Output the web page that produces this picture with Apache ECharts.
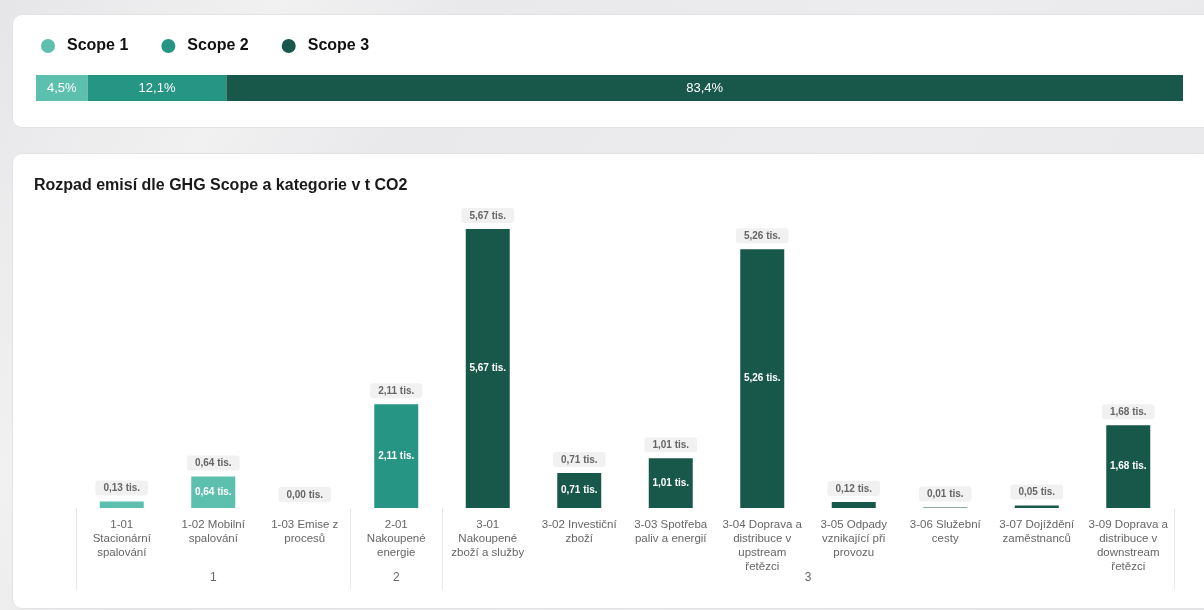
<!DOCTYPE html>
<html>
<head>
<meta charset="utf-8">
<script src="https://cdn.jsdelivr.net/npm/echarts@6/dist/echarts.min.js"></script>
<style>
  html, body { margin: 0; padding: 0; width: 1204px; height: 610px; overflow: hidden;
    font-family: "Liberation Sans", Arial, sans-serif;
    background: linear-gradient(120deg, #e6e6e8 0%, #f1f1f2 18%, #e9e9eb 30%, #ececee 60%, #e8e8ea 100%); }
  .card { position: absolute; background: #fff; border: 1px solid #e3e3e3; border-radius: 10px; box-sizing: border-box; }
  #card1 { left: 12px; top: 14px; width: 1210px; height: 114px; }
  #card2 { left: 12px; top: 153px; width: 1210px; height: 456px; }
  #c1 { position: absolute; left: 0; top: 0; width: 1208px; height: 112px; }
  #c2 { position: absolute; left: 0; top: 0; width: 1208px; height: 454px; }
</style>
</head>
<body>
<div class="card" id="card1"><div id="c1"></div></div>
<div class="card" id="card2"><div id="c2"></div></div>
<script>
// ---- data ----
const scopeNames = ['Scope 1', 'Scope 2', 'Scope 3'];
const scopeShares = [4.5, 12.1, 83.4];           // percent of total
const scopeColors = ['#5dbfae', '#279584', '#18584a'];

const categories = [
  '1-01\nStacionární\nspalování',
  '1-02 Mobilní\nspalování',
  '1-03 Emise z\nprocesů',
  '2-01\nNakoupené\nenergie',
  '3-01\nNakoupené\nzboží a služby',
  '3-02 Investiční\nzboží',
  '3-03 Spotřeba\npaliv a energií',
  '3-04 Doprava a\ndistribuce v\nupstream\nřetězci',
  '3-05 Odpady\nvznikající při\nprovozu',
  '3-06 Služební\ncesty',
  '3-07 Dojíždění\nzaměstnanců',
  '3-09 Doprava a\ndistribuce v\ndownstream\nřetězci'
];
const categoryScope = [1, 1, 1, 2, 3, 3, 3, 3, 3, 3, 3, 3];
const emissionsThousands = [0.13, 0.64, 0.00, 2.11, 5.67, 0.71, 1.01, 5.26, 0.12, 0.01, 0.05, 1.68];

const groupLabels = ['1', '2', '3'];
const groupLabelPos = [1.5, 3.5, 8];     // centre of each group in category units
const groupBounds = [0, 3, 4, 12];       // separators in category units

const titleText = 'Rozpad emisí dle GHG Scope a kategorie v t CO2';

// ---- helpers ----
const fmtCz = (v, d) => v.toFixed(d).replace('.', ',');
const FONT = '"Liberation Sans", Arial, sans-serif';

// ---- chart 1: scope shares ----
const c1 = echarts.init(document.getElementById('c1'), null, { renderer: 'canvas' });
c1.setOption({
  animation: false,
  textStyle: { fontFamily: FONT },
  legend: {
    left: 23, top: 18,
    icon: 'circle', itemWidth: 14, itemHeight: 14, itemGap: 33,
    textStyle: { fontSize: 16, fontWeight: 'bold', color: '#111', padding: [0, 0, 0, 7] },
    data: scopeNames
  },
  grid: { left: 23, top: 60, width: 1147, height: 26 },
  xAxis: { type: 'value', min: 0, max: 100, show: false },
  yAxis: { type: 'category', data: [''], show: false },
  series: scopeNames.map((name, i) => ({
    name, type: 'bar', stack: 'total', barWidth: 26,
    itemStyle: { color: scopeColors[i] },
    label: { show: true, position: 'inside', color: '#fff', fontSize: 13,
      formatter: p => fmtCz(p.value, 1) + '%' },
    data: [scopeShares[i]]
  }))
});

// ---- chart 2: categories ----
const c2 = echarts.init(document.getElementById('c2'), null, { renderer: 'canvas' });
const barData = emissionsThousands.map((v, i) => ({
  value: v,
  itemStyle: { color: scopeColors[categoryScope[i] - 1] }
}));
c2.setOption({
  animation: false,
  textStyle: { fontFamily: FONT },
  title: {
    text: titleText, left: 16, top: 19,
    textStyle: { fontSize: 16, fontWeight: 'bold', color: '#1a1a1a', fontFamily: FONT }
  },
  grid: { left: 63, width: 1098, top: 58.8, height: 295.2 },
  xAxis: [
    {
      type: 'category', data: categories,
      axisLine: { show: false }, axisTick: { show: false },
      axisLabel: { interval: 0, fontSize: 11.5, lineHeight: 14, color: '#666', margin: 10, align: 'center' }
    },
    {
      type: 'value', min: 0, max: 12, position: 'bottom',
      axisLine: { show: false }, splitLine: { show: false },
      axisTick: { show: true, customValues: groupBounds, length: 82, inside: false,
        lineStyle: { color: '#e8e8e8', width: 1 } },
      axisLabel: { show: true, customValues: groupLabelPos, margin: 64, fontSize: 12, color: '#666',
        formatter: v => groupLabels[groupLabelPos.indexOf(v)] ?? '' }
    }
  ],
  yAxis: { type: 'value', min: 0, max: 6, show: false },
  series: [
    {
      type: 'bar', xAxisIndex: 0, barWidth: 44,
      data: barData,
      label: {
        show: true, position: 'inside', color: '#fff', fontSize: 10, fontWeight: 'bold',
        formatter: p => p.value >= 0.3 ? fmtCz(p.value, 2) + ' tis.' : ''
      }
    },
    {
      type: 'bar', xAxisIndex: 0, barWidth: 44, barGap: '-100%',
      silent: true,
      itemStyle: { color: 'rgba(0,0,0,0)' },
      data: emissionsThousands,
      label: {
        show: true, position: 'top', distance: 6,
        color: '#666', fontSize: 10, fontWeight: 'bold',
        backgroundColor: '#f1f1f1', borderRadius: 3, padding: [3, 8, 2, 8],
        formatter: p => fmtCz(p.value, 2) + ' tis.'
      }
    }
  ]
});
</script>
</body>
</html>
